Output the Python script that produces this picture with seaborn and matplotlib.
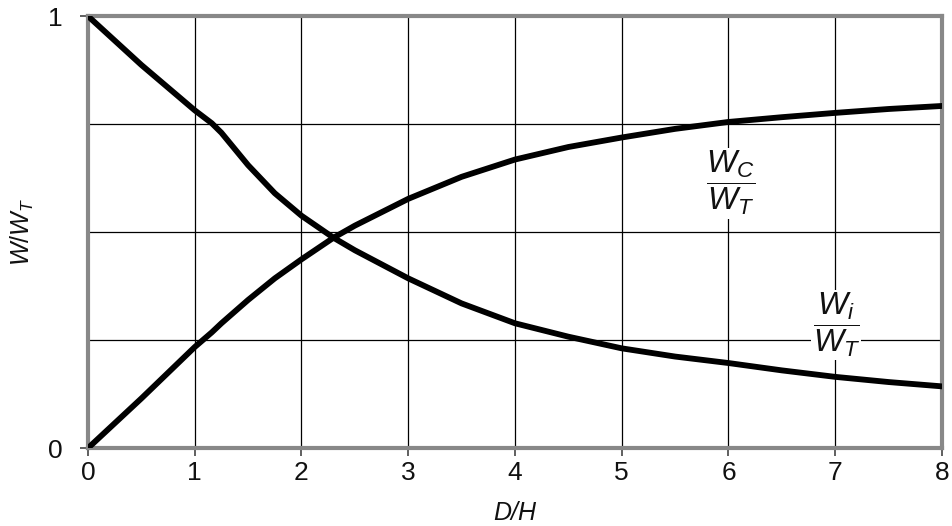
import numpy as np
import pandas as pd
import matplotlib
matplotlib.use("Agg")
import matplotlib.pyplot as plt
import seaborn as sns

# values
d_over_h = [0, 0.5, 1.0, 1.16, 1.25, 1.5, 1.75, 2.0, 2.3, 2.5, 3.0, 3.5,
            4.0, 4.5, 5.0, 5.5, 6.0, 6.5, 7.0, 7.5, 8.0]
wi_wt = [1.0, 0.887, 0.782, 0.752, 0.73, 0.655, 0.59, 0.538, 0.487, 0.458, 0.393, 0.335,
         0.289, 0.258, 0.231, 0.212, 0.197, 0.18, 0.165, 0.153, 0.143]
wc_wt = [0.0, 0.115, 0.234, 0.268, 0.289, 0.343, 0.393, 0.437, 0.487, 0.515, 0.577, 0.628,
         0.668, 0.697, 0.719, 0.739, 0.755, 0.766, 0.776, 0.785, 0.792]

df = pd.DataFrame({"D/H": d_over_h * 2,
                   "W/WT": wi_wt + wc_wt,
                   "curve": ["Wi"] * len(d_over_h) + ["Wc"] * len(d_over_h)})

sns.set_style("white")
plt.rcParams['font.family'] = ['Liberation Sans', 'DejaVu Sans']
plt.rcParams['mathtext.fontset'] = 'custom'
plt.rcParams['mathtext.it'] = 'Liberation Sans:italic'
plt.rcParams['mathtext.rm'] = 'Liberation Sans'
plt.rcParams['text.color'] = '#111111'

fig = plt.figure(figsize=(9.52, 5.26), dpi=100)
ax = fig.add_axes([0.0924, 0.148, 0.8971, 0.8214])

sns.lineplot(data=df, x="D/H", y="W/WT", hue="curve", palette=["black", "black"],
             linewidth=4.2, legend=False, ax=ax, zorder=3)

ax.set_xlim(0, 8)
ax.set_ylim(0, 1)
ax.set_xticks(range(9))
ax.set_yticks([0, 1])
ax.set_yticks([0.25, 0.5, 0.75], minor=True)
ax.grid(True, which="both", color="black", linewidth=0.9)
ax.tick_params(axis="both", which="major", labelsize=19, length=6, width=1.2,
               color="#444444", labelcolor="#111111", direction="out",
               bottom=True, left=True)
ax.tick_params(axis="y", which="minor", length=0)
ax.tick_params(axis="y", pad=12)
ax.tick_params(axis="x", pad=3)

for s in ax.spines.values():
    s.set_color("#888888")
    s.set_linewidth(3)

ax.set_xlabel("D/H", fontsize=18, style="italic", labelpad=12, color="#111111")
ax.set_ylabel(r"$W/W_T$", fontsize=18, labelpad=9, color="#111111")

ax.text(6.02, 0.613, r"$\dfrac{W_C}{W_T}$", fontsize=23, ha="center", va="center",
        bbox=dict(facecolor="white", edgecolor="none", pad=1), zorder=4)
ax.text(7.01, 0.285, r"$\dfrac{W_i}{W_T}$", fontsize=23, ha="center", va="center",
        bbox=dict(facecolor="white", edgecolor="none", pad=1), zorder=4)

fig.savefig("out.png", dpi=100)
